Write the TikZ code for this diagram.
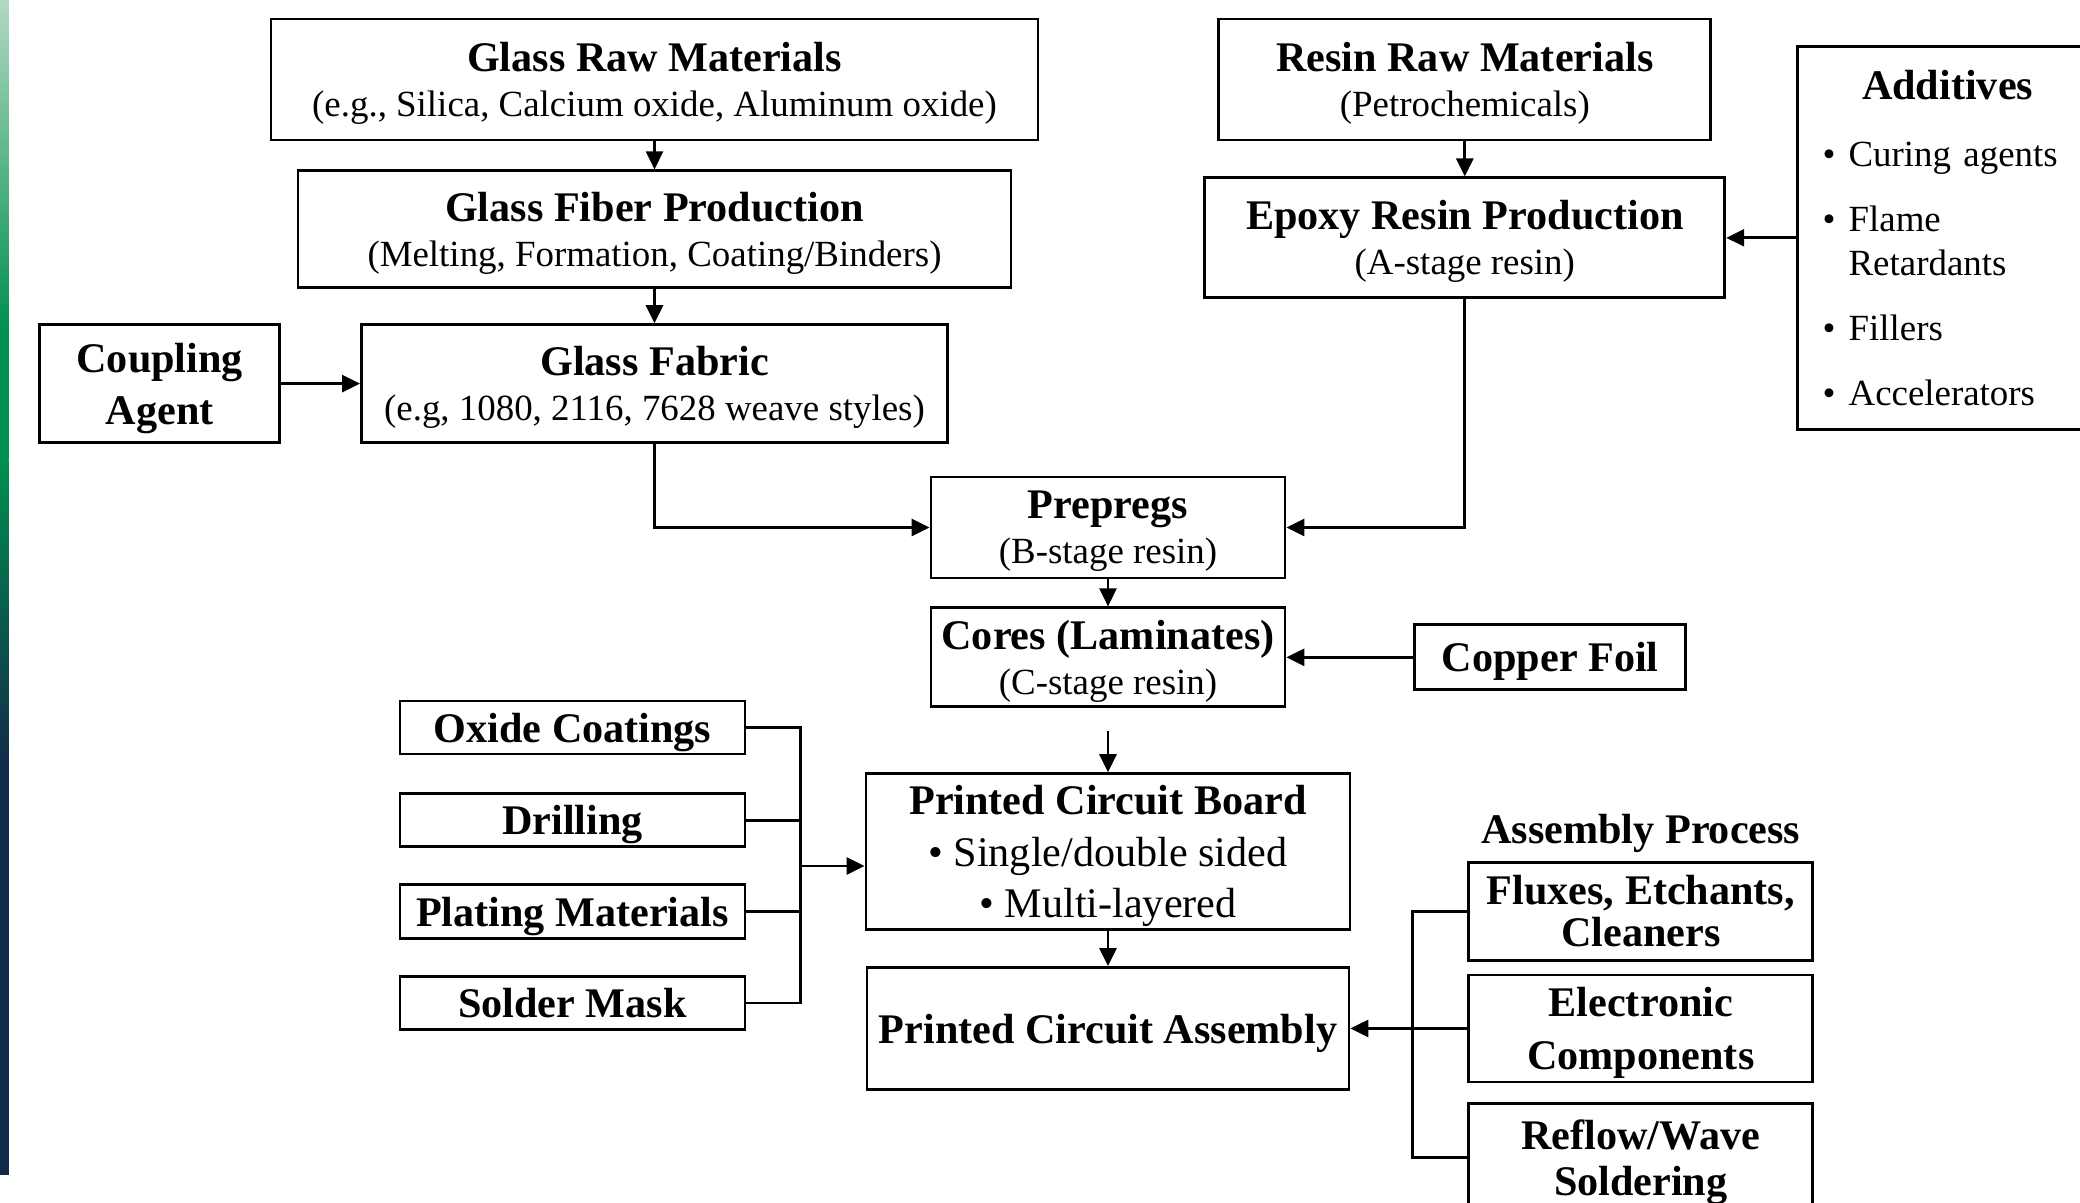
\documentclass[tikz,border=0pt]{standalone}
\usepackage{fontspec}
\setmainfont{Liberation Serif}
\usepackage{tikz}
\usetikzlibrary{arrows.meta, positioning, calc}

\definecolor{stripmint}{HTML}{B2D9C2}
\definecolor{stripgreen}{HTML}{00904F}
\definecolor{stripteal}{HTML}{0B4F4A}
\definecolor{stripnavy}{HTML}{12294A}

\newcommand{\stagenote}[1]{{\fontsize{10.5}{12}\selectfont #1}}
\newcommand{\additem}[1]{\makebox[0.26cm][l]{\textbullet}#1}

\begin{document}
\begin{tikzpicture}[
    every node/.style={font=\fontsize{12}{12.8}\selectfont},
    block/.style={rectangle, draw=black, line width=0.8pt, align=center, inner sep=2pt, text depth=0pt},
    arrow/.style={-{Triangle[length=1.8mm, width=1.7mm]}, line width=0.8pt},
    link/.style={line width=0.8pt}
]
    \useasboundingbox (0,0) rectangle (20.8,-12.03);

    % Side strip
    \shade[top color=stripmint, bottom color=stripgreen] (0,0) rectangle (0.085,-3.3);
    \fill[stripgreen] (0,-3.3) rectangle (0.085,-4.6);
    \shade[top color=stripgreen, middle color=stripteal, bottom color=stripnavy] (0,-4.6) rectangle (0.085,-7.7);
    \fill[stripnavy] (0,-7.7) rectangle (0.085,-11.75);

    % Glass branch
    \node[block, minimum width=7.67cm, minimum height=1.21cm] (glassraw) at (6.545,-0.795) {\textbf{Glass Raw Materials}\\\stagenote{(e.g., Silica, Calcium oxide, Aluminum oxide)}};
    \node[block, below=0.28cm of glassraw, minimum width=7.13cm, minimum height=1.17cm] (fiberprod) {\textbf{Glass Fiber Production}\\\stagenote{(Melting, Formation, Coating/Binders)}};
    \node[block, below=0.34cm of fiberprod, minimum width=5.86cm, minimum height=1.18cm] (fabric) {\textbf{Glass Fabric}\\\stagenote{(e.g, 1080, 2116, 7628 weave styles)}};
    \node[block, left=0.79cm of fabric, minimum width=2.40cm, minimum height=1.18cm] (coupling) {\textbf{Coupling}\\[1.9pt]\textbf{Agent}};

    % Resin branch
    \node[block, right=1.78cm of glassraw, minimum width=4.92cm, minimum height=1.21cm] (resinraw) {\textbf{Resin Raw Materials}\\\stagenote{(Petrochemicals)}};
    \node[block, below=0.35cm of resinraw, minimum width=5.20cm, minimum height=1.20cm] (epoxy) {\textbf{Epoxy Resin Production}\\\stagenote{(A-stage resin)}};
    \node[block, right=0.70cm of epoxy, text width=2.5cm, align=left, inner xsep=0.25cm, text depth=, minimum height=3.83cm, font=\fontsize{10.5}{12.5}\selectfont] (additives) {\makebox[2.5cm]{\fontsize{12}{13.5}\selectfont\textbf{Additives}}\\[0.23cm]
        \additem{Curing agents}\\[0.21cm]
        \additem{Flame}\\\hspace*{0.26cm}Retardants\\[0.21cm]
        \additem{Fillers}\\[0.21cm]
        \additem{Accelerators}};

    % Laminate stages
    \node[block, minimum width=3.54cm, minimum height=1.01cm] (prepregs) at (11.08,-5.275) {\textbf{Prepregs}\\\stagenote{(B-stage resin)}};
    \node[block, below=0.27cm of prepregs, minimum width=3.54cm, minimum height=0.99cm] (cores) {\textbf{Cores (Laminates)}\\\stagenote{(C-stage resin)}};
    \node[block, right=1.27cm of cores, minimum width=2.71cm, minimum height=0.65cm] (copper) {\textbf{Copper Foil}};
    \node[block, below=0.64cm of cores, minimum width=4.84cm, minimum height=1.56cm] (pcb) {\textbf{Printed Circuit Board}\\[1.8pt]\textbullet\ Single/double sided\\[1.8pt]\textbullet\ Multi-layered};
    \node[block, below=0.35cm of pcb, minimum width=4.82cm, minimum height=1.22cm] (pca) {\textbf{Printed Circuit Assembly}};

    % Board processing inputs
    \node[block, minimum width=3.45cm, minimum height=0.53cm] (oxide) at (5.725,-7.275) {\textbf{Oxide Coatings}};
    \node[block, below=0.37cm of oxide, minimum width=3.45cm, minimum height=0.53cm] (drilling) {\textbf{Drilling}};
    \node[block, below=0.35cm of drilling, minimum width=3.45cm, minimum height=0.54cm] (plating) {\textbf{Plating Materials}};
    \node[block, below=0.35cm of plating, minimum width=3.45cm, minimum height=0.53cm] (solder) {\textbf{Solder Mask}};

    % Assembly inputs
    \node[block, right=1.17cm of pca, minimum width=3.44cm, minimum height=1.07cm] (electronic) {\textbf{Electronic}\\[2.3pt]\textbf{Components}};
    \node[block, above=0.12cm of electronic, minimum width=3.44cm, minimum height=0.98cm] (fluxes) {\textbf{Fluxes, Etchants,}\\[-0.9pt]\textbf{Cleaners}};
    \node[block, below=0.19cm of electronic, minimum width=3.44cm, minimum height=1.08cm] (reflow) {\textbf{Reflow/Wave}\\[0.4pt]\textbf{Soldering}};
    \node[above=0.07cm of fluxes, inner sep=0pt] (asmlabel) {\textbf{Assembly Process}};

    % Flow arrows
    \draw[arrow] (glassraw) -- (fiberprod);
    \draw[arrow] (fiberprod) -- (fabric);
    \draw[arrow] (coupling) -- (fabric);
    \draw[arrow] (resinraw) -- (epoxy);
    \draw[arrow] (additives) -- (epoxy);
    \draw[arrow] (fabric.south) |- (prepregs.west);
    \draw[arrow] (epoxy.south) |- (prepregs.east);
    \draw[arrow] (prepregs) -- (cores);
    \draw[arrow] (copper) -- (cores);
    \draw[arrow, shorten <=0.23cm] (cores) -- (pcb);
    \draw[arrow] (pcb) -- (pca);

    % Left bus into the board
    \coordinate (lbus) at ($(oxide.east)+(0.54,0)$);
    \draw[link] (oxide.east) -- (lbus) -- (lbus |- solder.east) -- (solder.east);
    \draw[link] (drilling.east) -- (drilling.east -| lbus);
    \draw[link] (plating.east) -- (plating.east -| lbus);
    \coordinate (lbusmid) at ($(lbus |- drilling.east)!0.5!(lbus |- plating.east)$);
    \draw[arrow] (lbusmid) -- (lbusmid -| pcb.west);

    % Right bus into the assembly
    \coordinate (rbus) at ($(fluxes.west)+(-0.55,0)$);
    \draw[link] (fluxes.west) -- (rbus) -- (rbus |- reflow.west) -- (reflow.west);
    \draw[arrow] (electronic) -- (pca);
\end{tikzpicture}
\end{document}
